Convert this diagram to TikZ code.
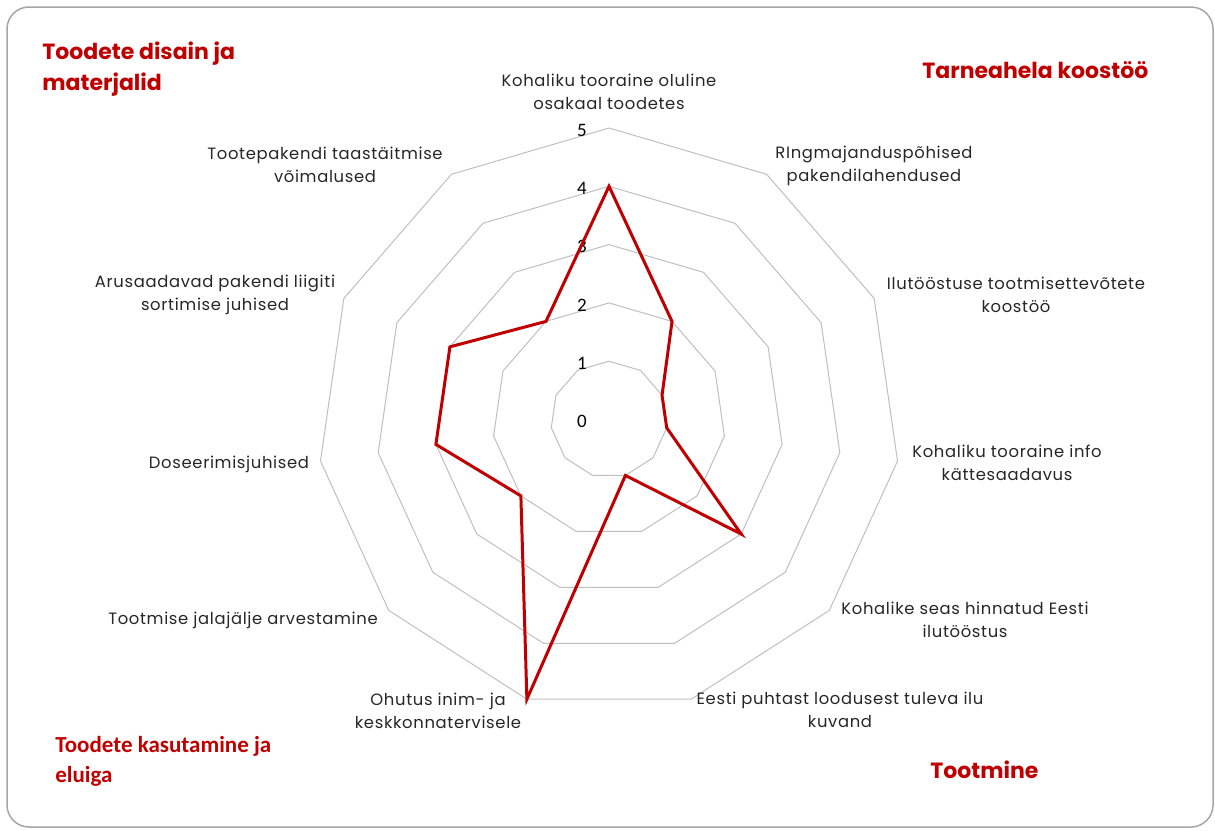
\documentclass[tikz,border=0pt]{standalone}
\usepackage{fontspec}
\setmainfont{Poppins}
\newfontfamily\calib{Carlito}
\newfontfamily\spaced[LetterSpace=4]{Poppins}
\definecolor{chartred}{HTML}{C00000}
\definecolor{gridgray}{HTML}{BFBFBF}

\begin{document}
\begin{tikzpicture}[x=0.5pt,y=-0.5pt,
        axislabel/.style={font=\spaced\fontsize{8.2}{11.5}\selectfont,align=center,text=black!85,inner sep=0pt},
        ticklabel/.style={font=\calib\fontsize{9.5}{11}\selectfont,inner sep=0pt},
        corner title/.style={font=\bfseries\fontsize{11}{15.5}\selectfont,text=chartred,align=left,inner sep=0pt,anchor=west},
        grid line/.style={draw=gridgray,line width=0.5pt},
        data line/.style={draw=chartred,line width=1.5pt,line join=miter}]

    \useasboundingbox (0,0) rectangle (1215,830);
    \draw[draw=black!35,line width=0.75pt,rounded corners=11pt] (7,7) rectangle (1213,827);

    \begin{scope}[shift={(609,419.5)}]
        % rings 1..5
        \foreach \r in {1,...,5}
            \draw[grid line] (-90:{\r*58.3}) \foreach \k in {1,...,10} { -- ({-90+\k*360/11}:{\r*58.3}) } -- cycle;
        % scale numbers
        \foreach \r in {0,...,5}
            \node[ticklabel] (t\r) at (-27,{-\r*58.3+2}) {\r};
        % values
        \foreach \v [count=\k from 0] in {4,2,1,1,3,1,5,2,3,3,2}
            \coordinate (p\k) at ({-90+\k*360/11}:{\v*58.3});
        \draw[data line] (p0) -- (p1) -- (p2) -- (p3) -- (p4) -- (p5) -- (p6)
            -- (p7) -- (p8) -- (p9) -- (p10) -- cycle;
    \end{scope}

    % axis labels
    \node[axislabel] (a0) at (609,92) {Kohaliku tooraine oluline\\osakaal toodetes};
    \node[axislabel] (a1) at (874,166) {RIngmajanduspõhised\\pakendilahendused};
    \node[axislabel] (a2) at (1016,295) {Ilutööstuse tootmisettevõtete\\koostöö};
    \node[axislabel] (a3) at (1007,463) {Kohaliku tooraine info\\kättesaadavus};
    \node[axislabel] (a4) at (965,620) {Kohalike seas hinnatud Eesti\\ilutööstus};
    \node[axislabel] (a5) at (840,710) {Eesti puhtast loodusest tuleva ilu\\kuvand};
    \node[axislabel] (a6) at (438,711) {Ohutus inim- ja\\keskkonnatervisele};
    \node[axislabel] (a7) at (243,620) {Tootmise jalajälje arvestamine};
    \node[axislabel] (a8) at (229,464) {Doseerimisjuhised};
    \node[axislabel] (a9) at (215,295) {Arusaadavad pakendi liigiti\\sortimise juhised};
    \node[axislabel] (a10) at (325,165) {Tootepakendi taastäitmise\\võimalused};

    % corner titles
    \node[corner title] (design) at (42,69) {Toodete disain ja\\materjalid};
    \node[corner title] (supply) at (922,70) {Tarneahela koostöö};
    \node[corner title] (production) at (930,770) {Tootmine};
    \node[corner title,font=\calib\bfseries\fontsize{11.5}{15}\selectfont] (usage) at (55,761) {Toodete kasutamine ja\\eluiga};
\end{tikzpicture}
\end{document}
